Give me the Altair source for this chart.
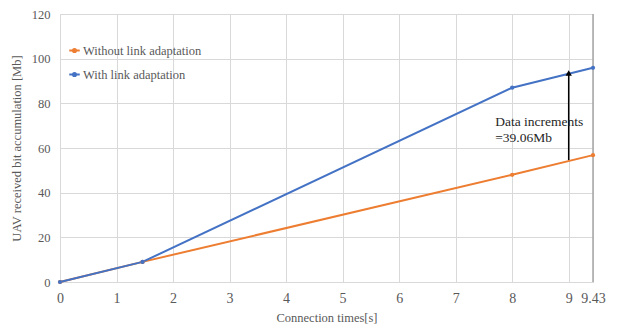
import altair as alt
import pandas as pd

# Data
times = [0, 1.46, 8, 9.43]
without_la = [0, 9.0, 48.0, 56.8]
with_la = [0, 9.0, 87.0, 95.9]
series_names = ["Without link adaptation", "With link adaptation"]
x_ticks = [0, 1, 2, 3, 4, 5, 6, 7, 8, 9, 9.43]
y_ticks = [0, 20, 40, 60, 80, 100, 120]
arrow_x = [9]
arrow_from = [54.6]
arrow_to = [93.6]
note_lines = ["Data increments", "=39.06Mb"]
note_x = [7.7, 7.7]
note_y = [71.5, 64.3]

rows = []
for t, a, b in zip(times, without_la, with_la):
    rows.append({"t": t, "v": a, "s": series_names[0]})
    rows.append({"t": t, "v": b, "s": series_names[1]})
df = pd.DataFrame(rows)

FONT = "Liberation Serif"
GREY = "#595959"

xscale = alt.Scale(domain=[0, 9.43], nice=False, zero=False)
yscale = alt.Scale(domain=[0, 120], nice=False)
color = alt.Color(
    "s:N",
    scale=alt.Scale(domain=series_names, range=["#ED7D31", "#4472C4"]),
    legend=alt.Legend(
        title=None, orient="none", legendX=8, legendY=30,
        labelFont=FONT, labelFontSize=12.5, labelColor=GREY,
        symbolType="M-1,0H1M-0.3,0A0.3,0.3,0,1,1,0.3,0A0.3,0.3,0,1,1,-0.3,0",
        symbolSize=110, symbolStrokeWidth=2, rowPadding=11, labelOffset=2,
    ),
)

base = alt.Chart(df)
lines = base.mark_line(strokeWidth=2).encode(
    x=alt.X("t:Q", scale=xscale,
            axis=alt.Axis(values=x_ticks, title="Connection times[s]", labelFont=FONT,
                          labelFontSize=14, labelColor=GREY, titleFont=FONT,
                          titleFontSize=12.5, titleColor=GREY, titleFontWeight="normal",
                          ticks=False, domainColor="#d9d9d9", gridColor="#d9d9d9",
                          labelPadding=9, titlePadding=6, labelFlush=False,
                          labelExpr="datum.value == 9.43 ? '   9.43' : '' + datum.value")),
    y=alt.Y("v:Q", scale=yscale,
            axis=alt.Axis(values=y_ticks, title="UAV received bit accumulation [Mb]",
                          labelFont=FONT, labelFontSize=12.5, labelColor=GREY,
                          titleFont=FONT, titleFontSize=12.5, titleColor=GREY,
                          titleFontWeight="normal", ticks=False, domain=False,
                          gridColor="#d9d9d9", labelPadding=10, titlePadding=8)),
    color=color,
)
points = base.mark_point(filled=True, size=18, opacity=1).encode(
    x=alt.X("t:Q", scale=xscale), y=alt.Y("v:Q", scale=yscale), color=color
)

edge = alt.Chart(pd.DataFrame({"t": [9.43]})).mark_rule(color="#a6a6a6", strokeWidth=1.5).encode(
    x=alt.X("t:Q", scale=xscale)
)

adf = pd.DataFrame({"t": arrow_x, "y1": arrow_from, "y2": arrow_to})
arrow = alt.Chart(adf).mark_rule(color="black", strokeWidth=1.5).encode(
    x=alt.X("t:Q", scale=xscale), y=alt.Y("y1:Q", scale=yscale), y2="y2:Q"
)
head = alt.Chart(adf).mark_point(shape="triangle-up", filled=True, color="black", size=40, opacity=1).encode(
    x=alt.X("t:Q", scale=xscale), y=alt.Y("y2:Q", scale=yscale)
)

ndf = pd.DataFrame({"t": note_x, "y": note_y, "txt": note_lines})
note = alt.Chart(ndf).mark_text(align="left", font=FONT, fontSize=13.5, color="#262626").encode(
    x=alt.X("t:Q", scale=xscale), y=alt.Y("y:Q", scale=yscale), text="txt:N"
)

chart = alt.layer(edge, lines, points, arrow, head, note).properties(
    width=533, height=268,
    autosize=alt.AutoSizeParams(type="none"),
    padding={"left": 52, "top": 6, "right": 19, "bottom": 48},
).configure_view(stroke=None).configure(background="white", font=FONT)

chart.save("out.html", embed_options={"renderer": "svg", "actions": False})
